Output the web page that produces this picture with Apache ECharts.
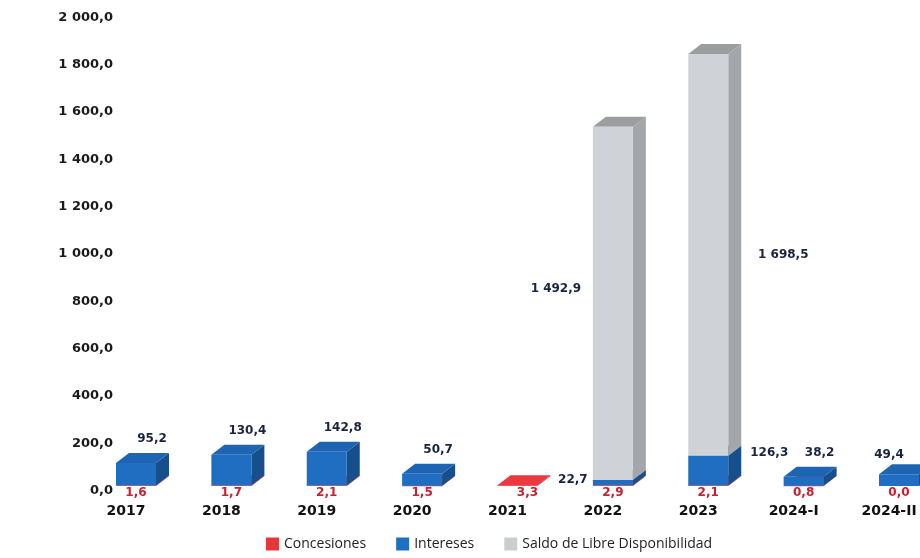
<!DOCTYPE html>
<html><head><meta charset="utf-8">
<script src="https://cdn.jsdelivr.net/npm/echarts@6/dist/echarts.min.js"></script>
<style>html,body{margin:0;padding:0;background:#fff}#c{width:920px;height:558px}</style>
</head><body><div id="c"></div>
<script>
// ---- data ----
const categories = ['2017','2018','2019','2020','2021','2022','2023','2024-I','2024-II'];
const concesiones = [1.6, 1.7, 2.1, 1.5, 3.3, 2.9, 2.1, 0.8, 0.0];
const intereses   = [95.2, 130.4, 142.8, 50.7, null, 22.7, 126.3, 38.2, 49.4];
const saldo       = [null, null, null, null, null, 1492.9, 1698.5, null, null];
const seriesNames = ['Concesiones', 'Intereses', 'Saldo de Libre Disponibilidad'];
const yMin = 0, yMax = 2000, yInterval = 200;

const seriesValues = [concesiones, intereses, saldo];

// ---- style ----
const FRONT_OFF = -10, FRONT_W = 40, DX = 13, DY = 10;
const faces = [
  {front:'#e0333a', top:'#ea3a3f', side:'#a9232a', label:'#c8202f', legend:'#e3373c'},
  {front:'#1f6ec2', top:'#1d64b3', side:'#174f8d', label:'#18243f', legend:'#1f6ec2'},
  {front:'#cfd3d8', top:'#9c9d9f', side:'#a3a7ac', label:'#18243f', legend:'#c9ced3'}
];
const labelPlacement = [
  {def:{anchor:'base', dx:10, dy:7}, special:{4:{anchor:'base', dx:20, dy:7}}},
  {def:{anchor:'topBack', dx:26, dy:-14}, special:{
      5:{anchor:'top', dx:-30, dy:0},
      6:{anchor:'top', dx:71, dy:-3},
      8:{anchor:'topBack', dx:0, dy:-9}}},
  {def:{anchor:'mid', dx:0, dy:0}, special:{
      5:{anchor:'mid', dx:-47, dy:-15},
      6:{anchor:'mid', dx:85, dy:0}}}
];

function fmt(v){
  const s = Number(v).toFixed(1).split('.');
  return s[0].replace(/\B(?=(\d{3})+(?!\d))/g, ' ') + ',' + s[1];
}

function makeRender(s){
  return function(params, api){
    const i = params.dataIndex;
    const v = seriesValues[s][i];
    if (v === null || v === undefined) return;
    let base = 0;
    for (let k = 0; k < s; k++) base += seriesValues[k][i] || 0;
    const pb = api.coord([i, base]);
    const pt = api.coord([i, base + v]);
    const x0 = pb[0] + FRONT_OFF, x1 = x0 + FRONT_W, yb = pb[1], yt = pt[1];
    const f = faces[s];
    const children = [];
    if (v > 0){
      children.push({type:'polygon', shape:{points:[[x1,yb],[x1+DX,yb-DY],[x1+DX,yt-DY],[x1,yt]]}, style:{fill:f.side}});
      children.push({type:'polygon', shape:{points:[[x0,yt],[x1,yt],[x1+DX,yt-DY],[x0+DX,yt-DY]]}, style:{fill:f.top}});
      children.push({type:'rect', shape:{x:x0, y:yt, width:FRONT_W, height:Math.max(yb-yt,0.5)}, style:{fill:f.front}});
    }
    const lp = labelPlacement[s].special[i] || labelPlacement[s].def;
    let ay;
    if (lp.anchor === 'base') ay = yb;
    else if (lp.anchor === 'top') ay = yt;
    else if (lp.anchor === 'topBack') ay = yt - DY;
    else ay = (yb + yt) / 2;
    children.push({type:'text', x: pb[0] + lp.dx, y: ay + lp.dy,
      style:{text: fmt(v), fill: f.label, font: 'bold 12px "DejaVu Sans"',
             align:'center', verticalAlign:'middle', textAlign:'center', textVerticalAlign:'middle'}});
    return {type:'group', children};
  };
}

const chart = echarts.init(document.getElementById('c'), null, {renderer:'canvas'});
chart.setOption({
  backgroundColor:'#ffffff',
  animation:false,
  grid:{left:126, right:31, top:13, bottom:72, containLabel:false},
  legend:{
    bottom:2, left:261, icon:'rect', itemWidth:13, itemHeight:13, itemGap:30,
    textStyle:{fontFamily:'"Open Sans"', fontSize:14, color:'#222'},
    data: seriesNames
  },
  xAxis:{
    type:'category', data:categories, boundaryGap:false,
    axisLine:{show:false}, axisTick:{show:false}, splitLine:{show:false},
    axisLabel:{interval:0, fontFamily:'"DejaVu Sans"', fontWeight:'bold', fontSize:14, color:'#111', margin:18}
  },
  yAxis:{
    type:'value', min:yMin, max:yMax, interval:yInterval,
    axisLine:{show:false}, axisTick:{show:false}, splitLine:{show:false},
    axisLabel:{
      formatter: v => '{t|' + fmt(v) + '}',
      margin:13,
      rich:{t:{fontFamily:'"DejaVu Sans"', fontWeight:'bold', fontSize:13, color:'#1a1a1a', padding:[9,0,0,0]}}
    }
  },
  series: seriesNames.map((name, s) => ({
    name, type:'custom',
    itemStyle:{color: faces[s].legend},
    encode:{x:0, y:1},
    data: categories.map((c, i) => [i, seriesValues[s][i] || 0]),
    renderItem: makeRender(s),
    z: 2 + s
  }))
});
</script>
</body></html>
